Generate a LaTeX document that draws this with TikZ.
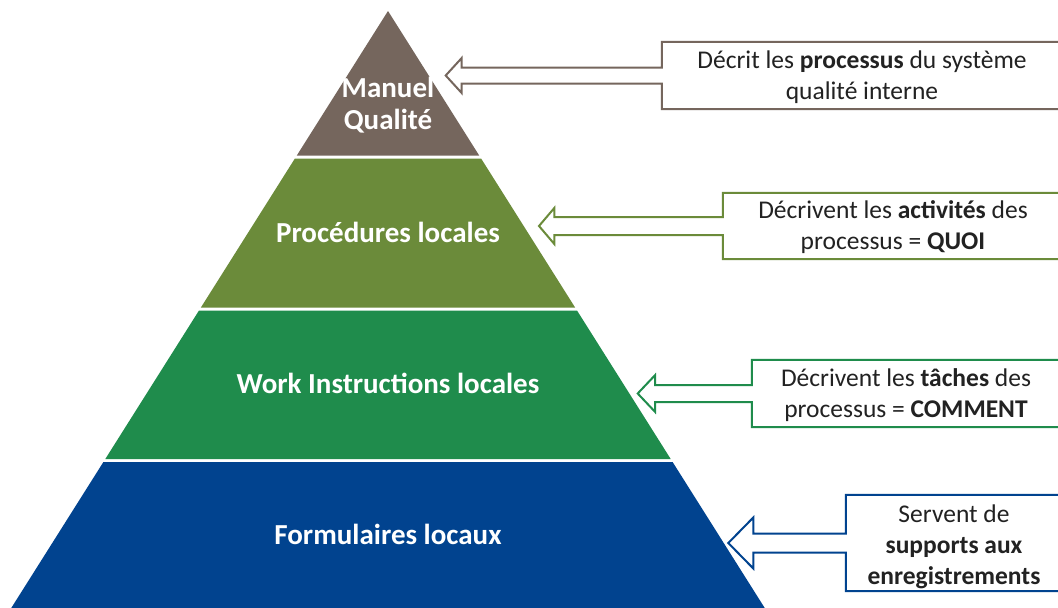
\documentclass[tikz,border=0pt]{standalone}
\usepackage{fontspec}
\setmainfont{Carlito}
\usetikzlibrary{calc}
\definecolor{cbrown}{HTML}{75665D}
\definecolor{colive}{HTML}{6B8B3A}
\definecolor{cgreen}{HTML}{1F8C4C}
\definecolor{cblue}{HTML}{01438F}
\definecolor{ctext}{HTML}{222222}
\newcommand\calloutpath[6]{%
  \draw[callout,draw=#6] ($(#1.west)+(0,-#3)$) |- (#1.north east) -- (#1.south east)
    -| ($(#1.west)+(0,#3)$) -- ($(#2)+(#5,#3)$) -- ($(#2)+(#5,#4)$) -- (#2)
    -- ($(#2)+(#5,-#4)$) -- ($(#2)+(#5,-#3)$) -- cycle;}
\begin{document}
\begin{tikzpicture}[x=1pt,y=-1pt,
  tierlabel/.style={text=white,font=\bfseries\fontsize{29}{32}\selectfont,align=center,inner sep=0pt},
  boxtext/.style={font=\fontsize{25.5}{31}\selectfont,align=center,text=ctext,inner sep=0pt},
  callout/.style={line width=2pt,fill=white,line join=miter}]
\clip (0,0) rectangle (1058,608);
\fill[white] (0,0) rectangle (1058,608);
% pyramid tiers
\fill[cbrown] (388,11) -- (479.2,155.5) -- (296.8,155.5) -- cycle;
\fill[colive] (294.9,158.5) -- (481.1,158.5) -- (575.1,307.5) -- (200.9,307.5) -- cycle;
\fill[cgreen] (199.0,310.5) -- (577.0,310.5) -- (670.7,459) -- (105.3,459) -- cycle;
\fill[cblue] (103.4,462) -- (672.6,462) -- (766,610) -- (10,610) -- cycle;
% tier labels
\node[tierlabel] (l1) at (388,105) {Manuel\\Qualité};
\node[tierlabel] (l2) at (388,232.5) {Procédures locales};
\node[tierlabel] (l3) at (388,383.5) {Work Instructions locales};
\node[tierlabel] (l4) at (388,534.5) {Formulaires locaux};
% boxes
\node[boxtext,minimum width=400,minimum height=67] (b1) at (862,75.5) {};
\node[boxtext,minimum width=340,minimum height=66] (b2) at (893,226) {};
\node[boxtext,minimum width=308,minimum height=67] (b3) at (906,393.5) {};
\node[boxtext,minimum width=216,minimum height=96] (b4) at (954,543) {};
\coordinate (t1) at (445.7,75.5);
\coordinate (t2) at (539,226);
\coordinate (t3) at (637.7,393.5);
\coordinate (t4) at (728.3,543);
\calloutpath{b1}{t1}{8}{17.5}{16}{cbrown}
\calloutpath{b2}{t2}{9}{18}{15.3}{colive}
\calloutpath{b3}{t3}{8.5}{18.3}{17.3}{cgreen}
\calloutpath{b4}{t4}{9.5}{25.5}{25}{cblue}
\node[boxtext] (x1) at ($(b1)+(0,2)$) {Décrit les \textbf{processus} du système\\qualité interne};
\node[boxtext] (x2) at ($(b2)+(0,1.5)$) {Décrivent les \textbf{activités} des\\processus = \textbf{QUOI}};
\node[boxtext] (x3) at ($(b3)+(0,1.5)$) {Décrivent les \textbf{tâches} des\\processus = \textbf{COMMENT}};
\node[boxtext] (x4) at ($(b4)+(0,3.5)$) {Servent de\\\textbf{supports aux}\\\textbf{enregistrements}};
\end{tikzpicture}
\end{document}
